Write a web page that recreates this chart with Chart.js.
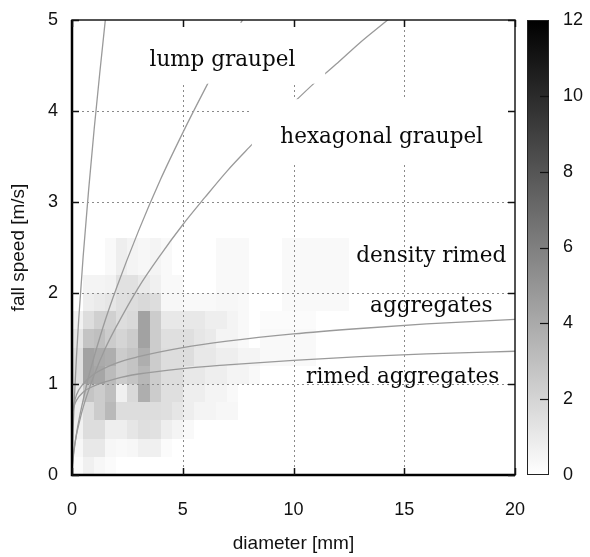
<!DOCTYPE html>
<html><head><meta charset="utf-8">
<script src="https://cdn.jsdelivr.net/npm/chart.js@4.4.0/dist/chart.umd.min.js"></script>
<style>html,body{margin:0;padding:0;background:#fff;overflow:hidden}#wrap{width:590px;height:557px;position:relative}</style>
</head><body><div id="wrap"><canvas id="c" width="590" height="557"></canvas></div>
<script>
// ---- data ----
const diameterEdges = [0,0.5,1,1.5,2,2.5,3,3.5,4,4.5,5,5.5,6,6.5,7,7.5,8,8.5,9,9.5,10,10.5,11,11.5,12,12.5,13];
const speedEdges = [0,0.2,0.4,0.6,0.8,1.0,1.2,1.4,1.6,1.8,2.0,2.2,2.4,2.6];
// counts[row] : row 0 = 0-0.2 m/s (bottom) ... row 12 = 2.4-2.6 m/s (top)
const counts = [
 [0.2,0.7,0.4,0.2,0,0,0,0,0,0,0,0,0,0,0,0,0,0,0,0,0,0,0,0,0,0],
 [0.4,1.1,1.1,0.4,0.3,0.4,0.7,0.7,0.2,0,0,0,0,0,0,0,0,0,0,0,0,0,0,0,0,0],
 [0.6,1.6,1.6,0.8,0.8,1.2,1.5,1.4,0.8,0.5,0.3,0,0,0,0,0,0,0,0,0,0,0,0,0,0,0],
 [0.8,1.6,2.4,3.3,1.6,1.6,1.6,1.6,1.5,1.2,0.8,0.5,0.5,0.4,0.4,0,0,0,0,0,0,0,0,0,0,0],
 [1.0,2.8,2.4,3.0,0.7,1.8,3.8,2.4,1.5,1.5,0.8,0.8,0.5,0.5,0.3,0,0,0,0,0,0,0,0,0,0,0],
 [1.5,4.4,4.2,3.2,2.4,2.8,3.4,2.4,1.6,1.6,1.1,1.1,0.8,0.8,0.5,0.5,0.3,0,0,0,0,0,0,0,0,0],
 [1.5,4.4,4.0,3.8,2.4,2.8,3.8,2.4,1.6,1.6,1.6,1.1,1.1,0.8,0.8,0.5,0.5,0.3,0.3,0.3,0.3,0.3,0,0,0,0],
 [1.2,2.8,3.0,2.4,2.0,2.4,4.4,2.4,1.5,1.5,1.5,1.2,1.0,0.5,0.5,0.3,0,0.3,0.3,0.3,0.3,0.3,0,0,0,0],
 [0.6,1.6,2.2,2.2,1.6,1.8,4.4,2.4,1.1,1.1,1.1,1.1,0.8,0.8,0.5,0.3,0,0.2,0.2,0.2,0.2,0.2,0,0,0,0],
 [0,0.8,1.0,1.2,1.5,1.6,1.8,1.6,0.4,0.4,0.3,0.3,0.3,0.4,0.4,0.3,0,0,0,0.3,0.3,0.3,0.3,0.3,0.3,0],
 [0,0.5,0.5,0.6,1.4,1.4,1.0,0.7,0.3,0.3,0,0,0,0.3,0.3,0.3,0,0,0,0.3,0.3,0.3,0.3,0.3,0.3,0],
 [0,0,0,0.3,0.8,0.5,0.4,0.5,0.3,0,0,0,0,0.3,0.3,0.3,0,0,0,0.3,0.3,0.3,0.3,0.3,0.3,0],
 [0,0,0,0.3,0.8,0.5,0.4,0.5,0.3,0,0,0,0,0.3,0.3,0.3,0,0,0,0.3,0.3,0.3,0.3,0.3,0.3,0]
];
const steepD = [0.02,0.05,0.1,0.2,0.3,0.5,0.75,1.0,1.25,1.5,1.6];
const steepV = [0.28,0.51,0.81,1.29,1.70,2.39,3.13,3.80,4.41,4.99,5.21];
const lumpGraupelD = [0.02,0.05,0.1,0.2,0.35,0.5,0.75,1,1.5,2,3,4,5,6,7,8];
const lumpGraupelV = [0.10,0.18,0.28,0.45,0.65,0.82,1.08,1.30,1.70,2.05,2.68,3.25,3.76,4.24,4.70,5.13];
const hexGraupelD = [0.02,0.05,0.1,0.2,0.35,0.5,0.75,1,1.5,2,3,4,5,6,7,8,9,10,11,12,13,14,15];
const hexGraupelV = [0.12,0.20,0.30,0.44,0.60,0.74,0.93,1.10,1.39,1.63,2.06,2.42,2.75,3.05,3.34,3.60,3.85,4.09,4.32,4.53,4.75,4.95,5.15];
const aggD = [0.05,0.1,0.2,0.5,1,2,3,5,7,10,13,16,20];
const denseRimedAggV = [0.72,0.79,0.88,1.00,1.11,1.23,1.30,1.40,1.47,1.55,1.61,1.66,1.71];
const rimedAggV = [0.70,0.76,0.82,0.91,0.98,1.06,1.11,1.17,1.21,1.26,1.30,1.33,1.36];
const xTicks = [0,5,10,15,20];
const yTicks = [0,1,2,3,4,5];
const cbTicks = [0,2,4,6,8,10,12];
const labelTexts = ['lump graupel','hexagonal graupel','density rimed','aggregates','rimed aggregates'];
const labelAt = [[6.79,4.49],[13.98,3.65],[16.22,2.34],[16.22,1.79],[14.93,1.01]];
const maskBoxes = [[3.05,11.43,4.30,4.97],[8.12,19.98,3.43,4.13]];

const pts = (d, v) => d.map((x, i) => ({x, y: v[i]}));
function grayFor(v){ const g = Math.round(255*(1 - Math.min(v,12)/12)); return `rgb(${g},${g},${g})`; }
const lineDs = (d, v) => ({data: pts(d, v), showLine: true, pointRadius: 0, borderColor: '#9a9a9a', borderWidth: 1.3, cubicInterpolationMode: 'monotone', fill: false});

const SANS = '"Liberation Sans", Arial, sans-serif';
const SERIF = '"DejaVu Serif", serif';
const noPad = s => { s.paddingTop = 0; s.paddingBottom = 0; };

const plotPlugin = {
  id: 'plotPlugin',
  beforeDatasetsDraw(chart) {
    const {ctx, chartArea: a, scales: {x, y}} = chart;
    ctx.save();
    ctx.beginPath(); ctx.rect(a.left, a.top, a.right - a.left, a.bottom - a.top); ctx.clip();
    for (let r = 0; r < counts.length; r++) {
      for (let c = 0; c < counts[r].length; c++) {
        const v = counts[r][c]; if (!v) continue;
        const x0 = Math.round(x.getPixelForValue(diameterEdges[c])), x1 = Math.round(x.getPixelForValue(diameterEdges[c+1]));
        const y0 = Math.round(y.getPixelForValue(speedEdges[r+1])), y1 = Math.round(y.getPixelForValue(speedEdges[r]));
        ctx.fillStyle = grayFor(v);
        ctx.fillRect(x0, y0, x1 - x0, y1 - y0);
      }
    }
    ctx.strokeStyle = '#8a8a8a'; ctx.lineWidth = 1; ctx.setLineDash([2, 3]);
    xTicks.slice(1, -1).forEach(t => { const px = Math.round(x.getPixelForValue(t)) + 0.5; ctx.beginPath(); ctx.moveTo(px, a.top); ctx.lineTo(px, a.bottom); ctx.stroke(); });
    yTicks.slice(1, -1).forEach(t => { const py = Math.round(y.getPixelForValue(t)) + 0.5; ctx.beginPath(); ctx.moveTo(a.left, py); ctx.lineTo(a.right, py); ctx.stroke(); });
    ctx.restore();
  },
  afterDatasetsDraw(chart) {
    const {ctx, chartArea: a, scales: {x, y, cb}} = chart;
    ctx.save();
    // white label boxes
    ctx.fillStyle = '#fff';
    maskBoxes.forEach(b => {
      const x0 = x.getPixelForValue(b[0]), x1 = x.getPixelForValue(b[1]);
      const y0 = y.getPixelForValue(b[3]), y1 = y.getPixelForValue(b[2]);
      ctx.fillRect(x0, y0, x1 - x0, y1 - y0);
    });
    // labels
    ctx.fillStyle = '#0a0a0a'; ctx.font = '21.5px ' + SERIF; ctx.textAlign = 'center'; ctx.textBaseline = 'alphabetic';
    labelTexts.forEach((t, i) => ctx.fillText(t, x.getPixelForValue(labelAt[i][0]), y.getPixelForValue(labelAt[i][1])));
    // border
    ctx.strokeStyle = '#1a1a1a'; ctx.lineWidth = 1.5;
    ctx.strokeRect(a.left, a.top, a.right - a.left, a.bottom - a.top);
    ctx.lineWidth = 2.5; ctx.strokeStyle = '#000';
    ctx.beginPath(); ctx.moveTo(a.left, a.top); ctx.lineTo(a.left, a.bottom); ctx.lineTo(a.right, a.bottom); ctx.stroke();
    // inward ticks
    ctx.lineWidth = 1.5; ctx.strokeStyle = '#111';
    xTicks.forEach(t => { const px = Math.round(x.getPixelForValue(t)) + 0.5;
      ctx.beginPath(); ctx.moveTo(px, a.bottom); ctx.lineTo(px, a.bottom - 7); ctx.moveTo(px, a.top); ctx.lineTo(px, a.top + 7); ctx.stroke(); });
    yTicks.forEach(t => { const py = Math.round(y.getPixelForValue(t)) + 0.5;
      ctx.beginPath(); ctx.moveTo(a.left, py); ctx.lineTo(a.left + 7, py); ctx.moveTo(a.right, py); ctx.lineTo(a.right - 7, py); ctx.stroke(); });
    // colorbar
    const cx0 = 527, cx1 = 549;
    const top = cb.getPixelForValue(12), bot = cb.getPixelForValue(0);
    const g = ctx.createLinearGradient(0, bot, 0, top);
    g.addColorStop(0, grayFor(0)); g.addColorStop(1, grayFor(12));
    ctx.fillStyle = g; ctx.fillRect(cx0, top, cx1 - cx0, bot - top);
    ctx.strokeStyle = '#222'; ctx.lineWidth = 1; ctx.strokeRect(cx0 + 0.5, top + 0.5, cx1 - cx0 - 1, bot - top - 1);
    ctx.strokeStyle = '#111'; ctx.lineWidth = 1.2;
    cbTicks.slice(1, -1).forEach(t => { const py = Math.round(cb.getPixelForValue(t)) + 0.5;
      ctx.beginPath(); ctx.moveTo(cx1, py); ctx.lineTo(cx1 - 9, py); ctx.stroke(); });
    ctx.restore();
  }
};

new Chart(document.getElementById('c'), {
  type: 'scatter',
  data: { datasets: [
    lineDs(steepD, steepV),
    lineDs(lumpGraupelD, lumpGraupelV),
    lineDs(hexGraupelD, hexGraupelV),
    lineDs(aggD, denseRimedAggV),
    lineDs(aggD, rimedAggV)
  ]},
  options: {
    responsive: false, animation: false, devicePixelRatio: 1,
    layout: { padding: { top: 20, left: 0, right: 0, bottom: 0 } },
    plugins: { legend: { display: false }, tooltip: { enabled: false } },
    scales: {
      x: { type: 'linear', position: 'bottom', min: 0, max: 20,
        grid: { display: false, drawTicks: false }, border: { display: false },
        afterBuildTicks: s => { s.ticks = xTicks.map(v => ({value: v})); },
        ticks: { padding: 24, color: '#111', font: { family: SANS, size: 18 } },
        title: { display: true, text: 'diameter [mm]', color: '#111', font: { family: SANS, size: 19 }, padding: { top: 0, bottom: 2 } },
        afterFit: s => { s.height = 82; } },
      y: { type: 'linear', position: 'left', min: 0, max: 5,
        grid: { display: false, drawTicks: false }, border: { display: false },
        afterBuildTicks: s => { s.ticks = yTicks.map(v => ({value: v})); },
        ticks: { padding: 14, color: '#111', font: { family: SANS, size: 18 } },
        title: { display: true, text: 'fall speed [m/s]', color: '#111', font: { family: SANS, size: 19 }, padding: { top: 7, bottom: 0 } },
        afterFit: s => { s.width = 72; noPad(s); } },
      cb: { type: 'linear', position: 'right', axis: 'y', min: 0, max: 12,
        grid: { display: false, drawTicks: false }, border: { display: false },
        afterBuildTicks: s => { s.ticks = cbTicks.map(v => ({value: v})); },
        ticks: { padding: 48, color: '#111', font: { family: SANS, size: 18 } },
        afterFit: s => { s.width = 75; noPad(s); } }
    }
  },
  plugins: [plotPlugin]
});
</script></body></html>
